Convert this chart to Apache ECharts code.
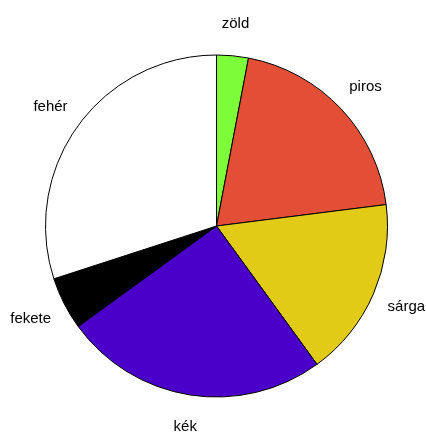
<!DOCTYPE html>
<html>
<head>
<meta charset="utf-8">
<script src="https://cdn.jsdelivr.net/npm/echarts@6/dist/echarts.min.js"></script>
<style>
html,body{margin:0;padding:0;background:#fff;}
#c{width:426px;height:436px;}
</style>
</head>
<body>
<div id="c"></div>
<script>
var categories = ['zöld', 'piros', 'sárga', 'kék', 'fekete', 'fehér'];
var values = [3, 20, 17, 25, 5, 30];
var colors = ['#7dfc3a', '#e34e36', '#e1cb17', '#4a00c9', '#000000', '#ffffff'];

var CX = 216.5, CY = 226, R = 171;
var total = values.reduce(function(a, b){ return a + b; }, 0);
var midAngles = [];
(function(){
  var acc = 0;
  for (var i = 0; i < values.length; i++) {
    midAngles.push((acc + values[i] / 2) / total * 2 * Math.PI);
    acc += values[i];
  }
})();

var chart = echarts.init(document.getElementById('c'));
chart.setOption({
  animation: false,
  backgroundColor: '#ffffff',
  series: [{
    type: 'pie',
    center: [CX, CY],
    radius: R,
    startAngle: 90,
    clockwise: true,
    avoidLabelOverlap: false,
    data: categories.map(function(n, i){
      return { name: n, value: values[i], itemStyle: { color: colors[i] } };
    }),
    itemStyle: { borderColor: '#000', borderWidth: 1 },
    emphasis: { disabled: true },
    label: {
      show: true,
      position: 'outside',
      formatter: '{b}',
      color: '#000',
      fontSize: 15,
      fontFamily: 'Liberation Sans, Arial, sans-serif'
    },
    labelLine: { show: false },
    labelLayout: function(p) {
      var a = midAngles[p.dataIndex];
      var s = Math.sin(a), c = Math.cos(a);
      var w = p.labelRect.width;
      var px = CX + 1.1 * R * s;
      var py = CY - 1.19 * R * c;
      return { x: px - (1 - s) / 2 * w, y: py, align: 'left', verticalAlign: 'middle' };
    }
  }]
});
</script>
</body>
</html>
